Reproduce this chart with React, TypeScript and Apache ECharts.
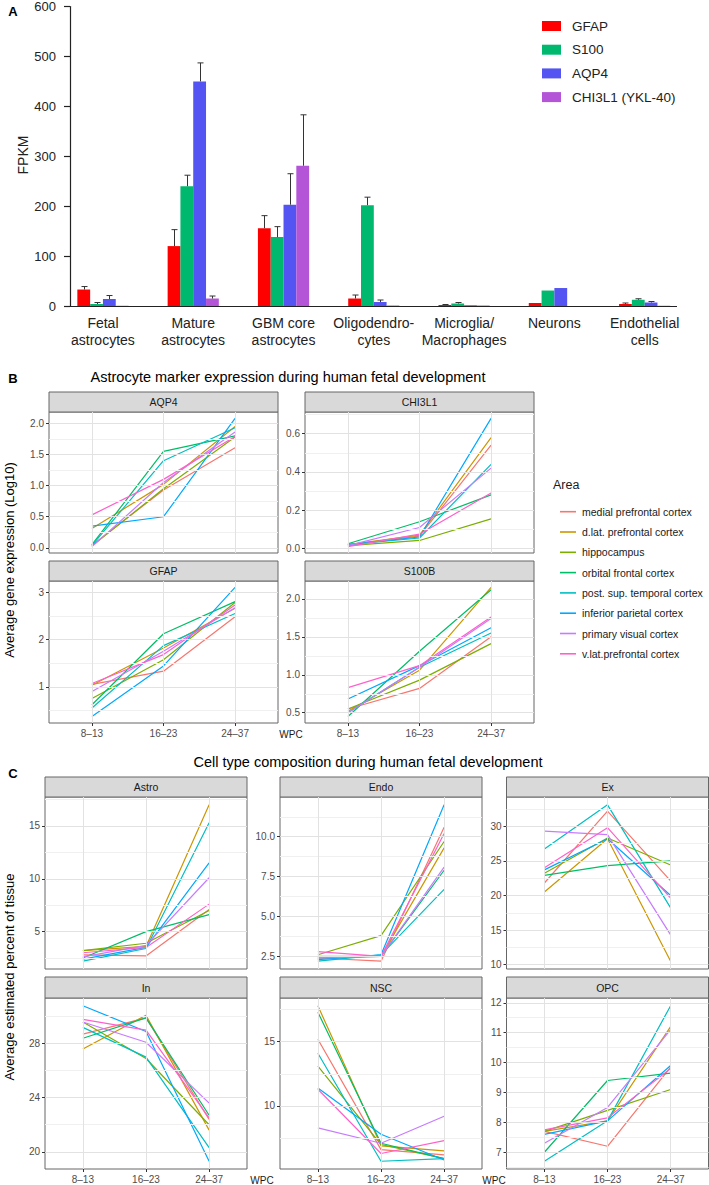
import React, { useEffect, useRef } from 'react';
import * as echarts from 'echarts';

const FONT = "'Liberation Sans', Arial, Helvetica, sans-serif";

// ---------- Panel A data ----------
const cellTypes = ['Fetal\nastrocytes', 'Mature\nastrocytes', 'GBM core\nastrocytes', 'Oligodendro-\ncytes', 'Microglia/\nMacrophages', 'Neurons', 'Endothelial\ncells'];
const genes = ['GFAP', 'S100', 'AQP4', 'CHI3L1 (YKL-40)'];
const geneColors = ['#FF0000', '#00B86E', '#5454F2', '#B455D8'];
const gfapMean = [33, 120, 156, 15, 2, 6, 4];
const gfapUpper = [39, 153, 181, 22, 3, 6, 6];
const s100Mean = [4, 240, 138, 202, 5, 31, 12.5];
const s100Upper = [7, 262, 159, 218, 7, 31, 14.5];
const aqp4Mean = [14, 450, 203, 8, 1.5, 36, 7];
const aqp4Upper = [21, 487, 265, 12, 1.5, 36, 9];
const chi3l1Mean = [0.5, 15, 281, 1, 1, 0, 0.5];
const chi3l1Upper = [0.5, 20, 383, 1, 1, 0, 0.5];
const fpkmTicks = { min: 0, max: 600, step: 100 };

// ---------- Panels B & C data ----------
const wpcStages = ['8–13', '16–23', '24–37'];
const areas = ['medial prefrontal cortex', 'd.lat. prefrontal cortex', 'hippocampus', 'orbital frontal cortex', 'post. sup. temporal cortex', 'inferior parietal cortex', 'primary visual cortex', 'v.lat.prefrontal cortex'];
const areaColors = ['#F8766D', '#CD9600', '#7CAE00', '#00BE67', '#00BFC4', '#00A9FF', '#C77CFF', '#FF61CC'];

// rows follow `areas`, columns follow `wpcStages`
const aqp4Log10 = [
  [0.04, 0.93, 1.61], [0.31, 1.02, 1.95], [0.03, 0.95, 1.78], [0.05, 1.55, 1.80],
  [0.04, 1.40, 1.93], [0.35, 0.50, 2.08], [0.02, 1.05, 1.86], [0.53, 1.10, 1.79],
];
const chi3l1Log10 = [
  [0.02, 0.065, 0.54], [0.02, 0.07, 0.58], [0.015, 0.042, 0.155], [0.025, 0.14, 0.28],
  [0.02, 0.055, 0.44], [0.02, 0.06, 0.68], [0.015, 0.11, 0.42], [0.01, 0.075, 0.29],
];
const gfapLog10 = [
  [1.05, 1.33, 2.48], [1.03, 1.82, 2.66], [0.75, 1.57, 2.78], [0.62, 2.12, 2.80],
  [0.55, 1.87, 2.55], [0.37, 1.44, 3.10], [0.90, 1.75, 2.67], [1.07, 1.68, 2.73],
];
const s100bLog10 = [
  [0.55, 0.82, 1.50], [0.52, 1.06, 2.15], [0.55, 0.93, 1.41], [0.45, 1.31, 2.12],
  [0.50, 1.10, 1.55], [0.68, 1.12, 1.62], [0.50, 1.10, 1.74], [0.83, 1.12, 1.76],
];
const astroPct = [
  [2.8, 2.7, 7.1], [3.2, 3.6, 17.0], [3.2, 3.9, 7.0], [2.5, 5.0, 6.6],
  [2.2, 3.4, 15.3], [2.4, 3.5, 11.5], [2.6, 3.7, 10.1], [3.0, 3.5, 7.6],
];
const endoPct = [
  [2.4, 2.2, 10.6], [2.5, 2.5, 9.3], [2.6, 3.8, 9.7], [2.4, 2.5, 7.9],
  [2.2, 2.6, 6.7], [2.3, 2.6, 12.0], [2.4, 2.5, 8.1], [2.8, 2.5, 10.2],
];
const exPct = [
  [21.8, 32.2, 22.1], [20.5, 28.2, 10.5], [23.2, 28.3, 24.4], [22.9, 24.3, 25.0],
  [26.7, 33.1, 18.2], [23.7, 28.2, 20.0], [29.3, 28.8, 14.3], [24.0, 29.8, 19.6],
];
const inPct = [
  [28.7, 29.9, 22.4], [27.6, 30.1, 21.6], [29.6, 26.9, 22.0], [28.4, 29.9, 22.7],
  [29.2, 27.0, 20.3], [30.8, 28.9, 19.3], [29.6, 28.1, 23.6], [29.8, 29.0, 22.5],
];
const nscPct = [
  [15.2, 6.6, 6.2], [17.8, 6.9, 6.5], [13.1, 7.0, 5.9], [17.3, 7.1, 5.9],
  [14.1, 5.7, 5.9], [11.4, 7.8, 5.8], [8.3, 7.1, 9.2], [11.3, 6.3, 7.3],
];
const opcPct = [
  [7.7, 7.2, 9.85], [7.7, 8.05, 11.2], [7.7, 8.4, 9.1], [7.0, 9.4, 9.65],
  [6.7, 8.05, 11.9], [7.6, 8.05, 9.9], [7.3, 8.5, 11.1], [7.75, 8.15, 9.8],
];

// ---------- layout ----------
const BAR_W = 12.8;
type Facet = { name: string; rows: number[][]; step: number; dec: number; box: [number, number, number, number]; stripH: number; showX: boolean };
const facets: Facet[] = [
  { name: 'AQP4', rows: aqp4Log10, step: 0.5, dec: 1, box: [49, 412, 229, 141], stripH: 20, showX: false },
  { name: 'CHI3L1', rows: chi3l1Log10, step: 0.2, dec: 1, box: [305, 412, 229, 141], stripH: 20, showX: false },
  { name: 'GFAP', rows: gfapLog10, step: 1, dec: 0, box: [49, 581, 229, 142], stripH: 20, showX: true },
  { name: 'S100B', rows: s100bLog10, step: 0.5, dec: 1, box: [305, 581, 229, 142], stripH: 20, showX: true },
  { name: 'Astro', rows: astroPct, step: 5, dec: 0, box: [45, 797, 202, 172], stripH: 20, showX: false },
  { name: 'Endo', rows: endoPct, step: 2.5, dec: 1, box: [280, 797, 202, 172], stripH: 20, showX: false },
  { name: 'Ex', rows: exPct, step: 5, dec: 0, box: [506.5, 797, 202, 172], stripH: 20, showX: false },
  { name: 'In', rows: inPct, step: 4, dec: 0, box: [45, 998, 202, 171], stripH: 21, showX: true },
  { name: 'NSC', rows: nscPct, step: 5, dec: 0, box: [280, 998, 202, 171], stripH: 21, showX: true },
  { name: 'OPC', rows: opcPct, step: 1, dec: 0, box: [506.5, 998, 202, 171], stripH: 21, showX: true },
];

function dataExtent(rows: number[][]): [number, number] {
  let lo = Infinity, hi = -Infinity;
  rows.forEach(r => r.forEach(v => { lo = Math.min(lo, v); hi = Math.max(hi, v); }));
  const pad = (hi - lo) * 0.05;
  return [lo - pad, hi + pad];
}
function majorBreaks(lo: number, hi: number, step: number) {
  const out: number[] = [];
  for (let k = Math.ceil(lo / step - 1e-9); k * step <= hi + 1e-9; k++) out.push(+(k * step).toFixed(6));
  return out;
}
function minorBreaks(lo: number, hi: number, step: number) {
  const out: number[] = [];
  for (let k = Math.floor(lo / step) - 1; k * step <= hi; k++) {
    const m = (k + 0.5) * step;
    if (m > lo && m < hi) out.push(+m.toFixed(6));
  }
  return out;
}

function buildOption() {
  const grids: any[] = [{ left: 57.8, top: 6, width: 632, height: 300, show: false }];
  const xAxes: any[] = [{
    type: 'category', gridIndex: 0, data: cellTypes,
    axisLine: { show: false }, axisTick: { show: false }, splitLine: { show: false },
    axisLabel: { interval: 0, fontSize: 14, color: '#222', margin: 8, lineHeight: 17, fontFamily: FONT },
  }];
  const yAxes: any[] = [{
    type: 'value', gridIndex: 0, min: fpkmTicks.min, max: fpkmTicks.max, interval: fpkmTicks.step, offset: -12.2,
    axisLine: { show: true, lineStyle: { color: '#222', width: 1.2 } },
    axisTick: { show: true, length: 6, lineStyle: { color: '#222', width: 1.2 } },
    axisLabel: { fontSize: 13, color: '#222', margin: 14, fontFamily: FONT },
    splitLine: { show: false },
  }];
  const series: any[] = [];
  const means = [gfapMean, s100Mean, aqp4Mean, chi3l1Mean];
  const uppers = [gfapUpper, s100Upper, aqp4Upper, chi3l1Upper];
  genes.forEach((g, gi) => {
    series.push({
      type: 'bar', name: g, xAxisIndex: 0, yAxisIndex: 0, data: means[gi],
      barWidth: BAR_W, barGap: '0%', itemStyle: { color: geneColors[gi] }, z: 2, silent: true,
    });
  });
  genes.forEach((g, gi) => {
    series.push({
      type: 'custom', name: g + ' error', xAxisIndex: 0, yAxisIndex: 0, silent: true, z: 3,
      data: means[gi].map((m, i) => [i, m, uppers[gi][i]]),
      encode: { x: 0, y: [1, 2] },
      renderItem: (_p: any, api: any) => {
        const i = api.value(0), m = api.value(1), u = api.value(2);
        if (!(u > m)) return { type: 'group', children: [] };
        const base = api.coord([i, m]);
        const top = api.coord([i, u]);
        const x = Math.round(base[0] + (gi - 1.5) * BAR_W) + 0.5;
        return {
          type: 'group', children: [
            { type: 'line', shape: { x1: x, y1: base[1], x2: x, y2: top[1] }, style: { stroke: '#333', lineWidth: 1 } },
            { type: 'line', shape: { x1: x - 3, y1: top[1], x2: x + 3, y2: top[1] }, style: { stroke: '#333', lineWidth: 1 } },
          ],
        };
      },
    });
  });

  const graphics: any[] = [];
  const txt = (text: string, x: number, y: number, size: number, opts: any = {}) => ({
    type: 'text', x, y, rotation: opts.rotation || 0, silent: true, z: 10,
    style: {
      text, fontSize: size, fontFamily: FONT, fontWeight: opts.bold ? 'bold' : 'normal', fill: opts.color || '#000',
      align: opts.align || 'center', verticalAlign: 'middle', textAlign: opts.align || 'center', textVerticalAlign: 'middle',
    },
  });
  // Panel A x axis line
  graphics.push({ type: 'line', silent: true, shape: { x1: 70, y1: 306.5, x2: 677, y2: 306.5 }, style: { stroke: '#222', lineWidth: 1.2 } });

  facets.forEach((f, fi) => {
    const gi = fi + 1;
    const [left, top, width, height] = f.box;
    const [lo, hi] = dataExtent(f.rows);
    const majors = majorBreaks(lo, hi, f.step);
    const minors = minorBreaks(lo, hi, f.step);
    grids.push({ left, top, width, height, show: true, borderColor: '#666', borderWidth: 1, backgroundColor: 'transparent' });
    xAxes.push({
      type: 'value', gridIndex: gi, min: 0.4, max: 3.6, minInterval: 1, maxInterval: 1,
      axisLine: { show: false }, splitLine: { show: false },
      axisTick: { show: f.showX, length: 3, lineStyle: { color: '#333' }, customValues: [1, 2, 3] },
      axisLabel: {
        show: f.showX, customValues: [1, 2, 3], fontSize: 10, color: '#4D4D4D', margin: 5, fontFamily: FONT,
        formatter: (v: number) => (Math.abs(v - Math.round(v)) < 1e-6 && wpcStages[Math.round(v) - 1]) || '',
      },
    });
    yAxes.push({
      type: 'value', gridIndex: gi, min: lo, max: hi, minInterval: f.step, maxInterval: f.step,
      axisLine: { show: false }, splitLine: { show: false },
      axisTick: { show: true, length: 3, lineStyle: { color: '#333' }, customValues: majors },
      axisLabel: {
        customValues: majors, fontSize: 10, color: '#4D4D4D', margin: 5, fontFamily: FONT,
        formatter: (v: number) => {
          const k = v / f.step;
          return Math.abs(k - Math.round(k)) < 1e-6 ? (Math.round(k) * f.step).toFixed(f.dec) : '';
        },
      },
    });
    // background grid lines
    const major = { color: '#E2E2E2', width: 1, type: 'solid' };
    const minor = { color: '#F0F0F0', width: 1, type: 'solid' };
    series.push({
      type: 'line', name: '__grid' + fi, xAxisIndex: gi, yAxisIndex: gi, data: [[2, (lo + hi) / 2]],
      symbol: 'none', silent: true, z: 1, lineStyle: { opacity: 0 },
      markLine: {
        silent: true, symbol: ['none', 'none'], label: { show: false }, animation: false,
        data: [
          ...minors.map(v => ({ yAxis: v, lineStyle: minor })),
          ...majors.map(v => ({ yAxis: v, lineStyle: major })),
          ...[1, 2, 3].map(v => ({ xAxis: v, lineStyle: major })),
        ],
      },
    });
    f.rows.forEach((row, ai) => {
      series.push({
        type: 'line', name: areas[ai], xAxisIndex: gi, yAxisIndex: gi, z: 2, silent: true,
        data: row.map((v, si) => [si + 1, v]), symbol: 'none',
        lineStyle: { color: areaColors[ai], width: 1.2 }, itemStyle: { color: areaColors[ai] },
      });
    });
    // strip
    const sy = top - f.stripH;
    graphics.push({
      type: 'rect', silent: true, z: 5,
      shape: { x: left, y: sy, width, height: f.stripH },
      style: { fill: '#D9D9D9', stroke: '#666', lineWidth: 1 },
    });
    graphics.push(txt(f.name, left + width / 2, sy + f.stripH / 2, 10.5, { color: '#1A1A1A' }));
  });

  // texts
  graphics.push(txt('A', 13, 11, 13, { bold: true }));
  graphics.push(txt('B', 13, 378, 13, { bold: true }));
  graphics.push(txt('C', 13, 773, 13, { bold: true }));
  graphics.push(txt('FPKM', 23, 155, 14, { rotation: Math.PI / 2, color: '#222' }));
  graphics.push(txt('Astrocyte marker expression during human fetal development', 288, 377, 14.5));
  graphics.push(txt('Cell type composition during human fetal development', 368, 762, 14.5));
  graphics.push(txt('Average gene expression (Log10)', 9, 560, 13, { rotation: Math.PI / 2 }));
  graphics.push(txt('Average estimated percent of tissue', 9, 977, 13, { rotation: Math.PI / 2 }));
  graphics.push(txt('WPC', 291, 734, 10, { color: '#1A1A1A' }));
  graphics.push(txt('WPC', 262, 1180, 10, { color: '#1A1A1A' }));
  graphics.push(txt('WPC', 494, 1180, 10, { color: '#1A1A1A' }));
  graphics.push(txt('Area', 553, 485, 12.5, { align: 'left', color: '#1A1A1A' }));

  return {
    animation: false,
    backgroundColor: '#fff',
    textStyle: { fontFamily: FONT },
    grid: grids,
    xAxis: xAxes,
    yAxis: yAxes,
    legend: [
      {
        data: genes, orient: 'vertical', left: 537, top: 13, icon: 'rect', itemWidth: 19, itemHeight: 10, itemGap: 7.7,
        selectedMode: false, textStyle: { fontSize: 13.5, color: '#222', lineHeight: 16, padding: [0, 0, 0, 6], fontFamily: FONT },
      },
      {
        data: areas, orient: 'vertical', left: 555, top: 499.7, icon: 'rect', itemWidth: 16, itemHeight: 1.6, itemGap: 6.3,
        selectedMode: false, textStyle: { fontSize: 10.5, color: '#1A1A1A', lineHeight: 14, padding: [0, 0, 0, 1], fontFamily: FONT },
      },
    ],
    graphic: graphics,
    series,
  };
}

export default function App() {
  const ref = useRef<HTMLDivElement>(null);
  useEffect(() => {
    const chart = echarts.init(ref.current!, null, { renderer: 'svg' });
    chart.setOption(buildOption() as any);
    return () => chart.dispose();
  }, []);
  return <div ref={ref} style={{ position: 'absolute', left: 0, top: 0, width: 709, height: 1185, background: '#fff' }} />;
}
